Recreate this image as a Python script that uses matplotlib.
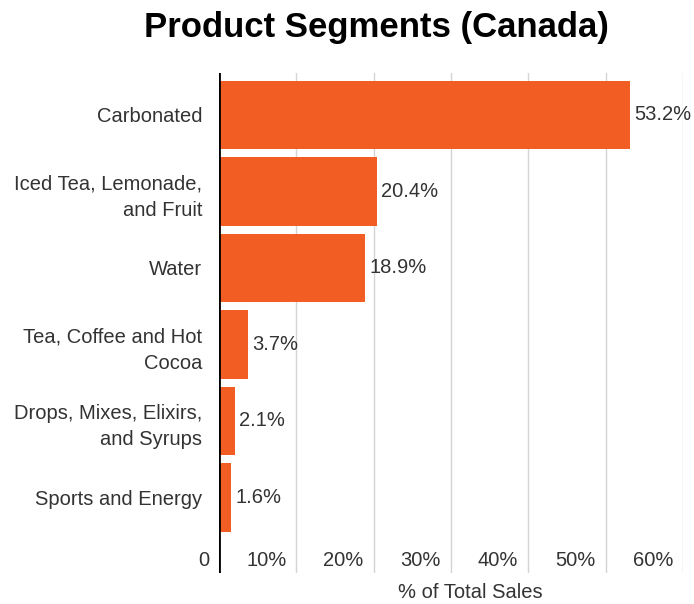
import matplotlib.pyplot as plt
import matplotlib.transforms as mtransforms

plt.rcParams['font.family'] = ['Liberation Sans', 'DejaVu Sans']

categories = ["Carbonated", "Iced Tea, Lemonade,\nand Fruit", "Water",
              "Tea, Coffee and Hot\nCocoa", "Drops, Mixes, Elixirs,\nand Syrups",
              "Sports and Energy"]
shares = [53.2, 20.4, 18.9, 3.7, 2.1, 1.6]
xticks = [0, 10, 20, 30, 40, 50, 60]
xtick_labels = ["0", "10%", "20%", "30%", "40%", "50%", "60%"]

bar_color = "#F15D22"
text_color = "#333333"

fig = plt.figure(figsize=(6.94, 6.04), dpi=100)
ax = fig.add_axes([219 / 694, 1 - 573 / 604, 464 / 694, 500 / 604])

ypos = list(range(len(categories)))
ax.barh(ypos, shares, height=0.89, color=bar_color, zorder=3)

ax.set_xlim(0, 60)
ax.set_ylim(5.987, -0.549)

# vertical gridlines
for t in xticks[1:]:
    ax.axvline(t, color="#d4d4d4", lw=1, zorder=1)
ax.axvline(0, color="black", lw=2, zorder=4)

for s in ax.spines.values():
    s.set_visible(False)
ax.set_xticks([])
ax.set_yticks(ypos)
ax.set_yticklabels(categories, fontsize=14.5, color=text_color, linespacing=1.5)
ax.tick_params(axis="y", length=0, pad=12)

# x tick labels sit inside the plot, right-aligned just left of each gridline
off = mtransforms.offset_copy(ax.transData, fig=fig, x=-10, y=0, units="dots")
for t, lab in zip(xticks, xtick_labels):
    ax.text(t, 5.82, lab, transform=off, ha="right", va="center",
            fontsize=14.5, color=text_color)

# value labels
for y, v in zip(ypos, shares):
    ax.annotate(f"{v}%", (v, y), xytext=(3, 0), textcoords="offset points",
                ha="left", va="center", fontsize=14.5, color=text_color,
                annotation_clip=False)

fig.text(470 / 694, 1 - 593 / 604, "% of Total Sales", ha="center", va="center",
         fontsize=14.5, color=text_color)
fig.text(376 / 694, 1 - 27 / 604, "Product Segments (Canada)", ha="center", va="center",
         fontsize=25, fontweight="bold", color="black")

fig.savefig("out.png", dpi=100)
